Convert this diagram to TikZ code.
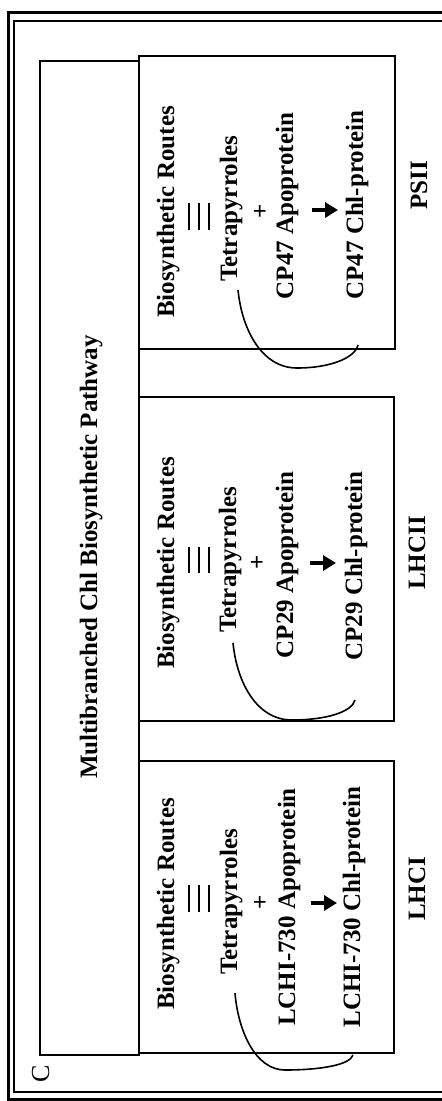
\documentclass[tikz,border=0pt]{standalone}
\usepackage{fontspec}
\setmainfont{Liberation Serif}
\usetikzlibrary{arrows.meta}
\begin{document}
\begin{tikzpicture}[x=1pt,y=-1pt,
  frameout/.style={line width=2.8pt},
  framein/.style={line width=1.8pt},
  boxshape/.style={draw, line width=2.4pt, inner sep=0pt, anchor=north west},
  txt/.style={rotate=90, anchor=base, inner sep=0pt, font=\fontsize{25}{30}\selectfont\bfseries},
  plussign/.style={rotate=90, anchor=center, inner sep=0pt, font=\fontsize{25}{30}\selectfont\bfseries},
  bigarrow/.style={line width=3.8pt, -{Triangle[length=13pt,width=15pt]}},
  loopline/.style={line width=1.6pt},
  eqbar/.style={line width=2.8pt}
]
\useasboundingbox (0,0) rectangle (442,1101);
% outer double frame
\draw[frameout] (445,12.5) -- (8.5,12.5) -- (8.5,1099.5) -- (445,1099.5);
\draw[framein] (445,21) -- (14,21) -- (14,1092) -- (445,1092);
% title strip and boxes
\node[boxshape, minimum width=99pt, minimum height=994pt] (strip) at (39,60) {};
\node[boxshape, minimum width=256pt, minimum height=293pt] (psii) at (138,55) {};
\node[boxshape, minimum width=255pt, minimum height=324pt] (lhcii) at (138,396) {};
\node[boxshape, minimum width=255pt, minimum height=292pt] (lhci) at (138,760) {};
% title
\node[txt] (title) at (97,557) {Multibranched Chl Biosynthetic Pathway};
\node[rotate=90, anchor=base, inner sep=0pt, font=\fontsize{26}{30}\selectfont] (clabel) at (49,1074) {C};

% ---- PSII column
\node[txt] (bio3) at (174,212) {Biosynthetic Routes};
\draw[eqbar] (189,203) -- (189,230) (199,203) -- (199,230) (209,203) -- (209,230);
\node[txt] (tet3) at (237,209) {Tetrapyrroles};
\node[plussign] (plus3) at (261,211) {+};
\node[txt] (apo3) at (293,206) {CP47 Apoprotein};
\coordinate (a3s) at (312,210);
\coordinate (a3e) at (338,210);
\draw[bigarrow] (a3s) -- (a3e);
\node[txt] (chl3) at (363,205) {CP47 Chl-protein};
\node[txt] (lab3) at (427,185) {PSII};
\coordinate (l3s) at (238,290);
\coordinate (l3e) at (358,345);
\draw[loopline] (l3s) .. controls (242,330) and (262,368) .. (297,368)
  .. controls (330,368) and (355,358) .. (l3e);

% ---- LHCII column
\node[txt] (bio2) at (174,563) {Biosynthetic Routes};
\draw[eqbar] (189,547) -- (189,573) (199,547) -- (199,573) (209,547) -- (209,573);
\node[txt] (tet2) at (236,560) {Tetrapyrroles};
\node[plussign] (plus2) at (258,562) {+};
\node[txt] (apo2) at (293,565) {CP29 Apoprotein};
\coordinate (a2s) at (310,563);
\coordinate (a2e) at (336,563);
\draw[bigarrow] (a2s) -- (a2e);
\node[txt] (chl2) at (362,566) {CP29 Chl-protein};
\node[txt] (lab2) at (425,553) {LHCII};
\coordinate (l2s) at (233,643);
\coordinate (l2e) at (355,700);
\draw[loopline] (l2s) .. controls (237,683) and (257,720) .. (292,720)
  .. controls (326,720) and (352,712) .. (l2e);

% ---- LHCI column
\node[txt] (bio1) at (174,904) {Biosynthetic Routes};
\draw[eqbar] (189,885) -- (189,912) (199,885) -- (199,912) (209,885) -- (209,912);
\node[txt] (tet1) at (237,902) {Tetrapyrroles};
\node[plussign] (plus1) at (261,902) {+};
\node[txt] (apo1) at (295,907) {LCHI-730 Apoprotein};
\coordinate (a1s) at (311,903);
\coordinate (a1e) at (337,903);
\draw[bigarrow] (a1s) -- (a1e);
\node[txt] (chl1) at (360,907) {LCHI-730 Chl-protein};
\node[txt] (lab1) at (425,889) {LHCI};
\coordinate (l1s) at (235,993);
\coordinate (l1e) at (353,1055);
\draw[loopline] (l1s) .. controls (238,1030) and (255,1070) .. (285,1070)
  .. controls (320,1070) and (350,1065) .. (l1e);
\end{tikzpicture}
\end{document}
